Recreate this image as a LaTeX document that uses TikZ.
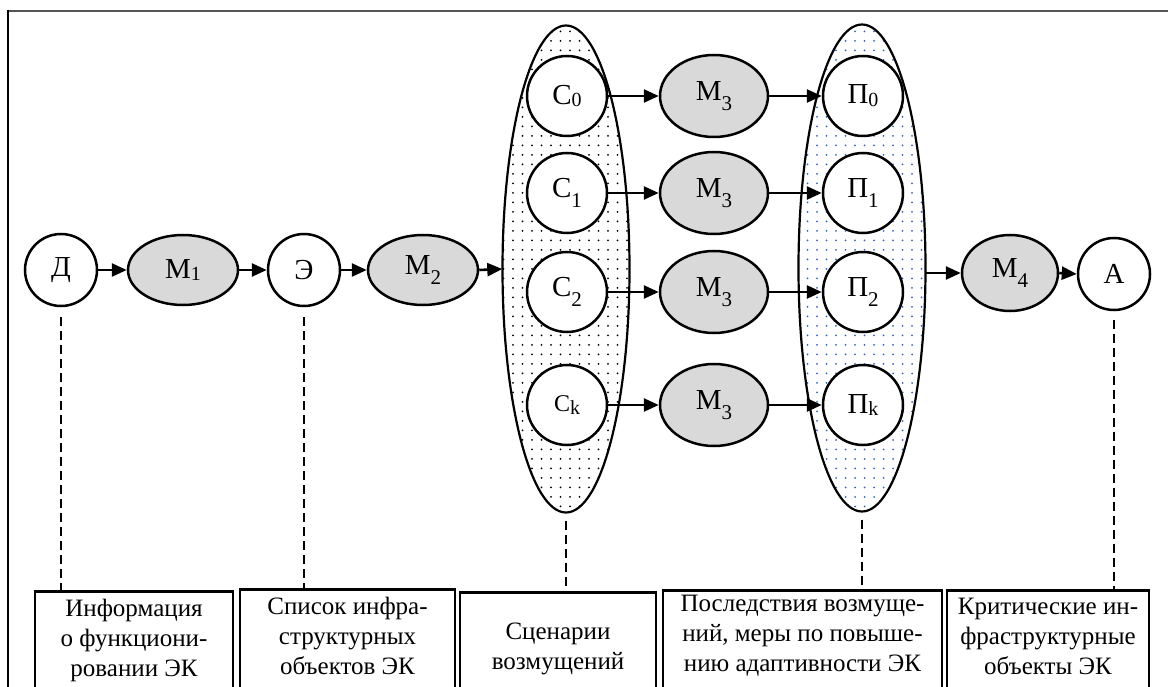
\documentclass[tikz,border=0pt]{standalone}
\usepackage{fontspec}
\setmainfont{Liberation Serif}
\usetikzlibrary{arrows.meta,shapes.geometric,patterns.meta}
\definecolor{dotblue}{RGB}{50,100,200}
\definecolor{framegray}{RGB}{85,85,85}
\newcommand{\flatsub}[1]{\raisebox{-0.1em}{\fontsize{20pt}{20pt}\selectfont #1}}
\newcommand{\lowsub}[1]{\raisebox{-0.36em}{\fontsize{21pt}{21pt}\selectfont #1}}
\begin{document}
\begin{tikzpicture}[x=1pt,y=-1pt,
  every node/.style={font=\fontsize{29pt}{32pt}\selectfont},
  circ/.style={circle,draw,line width=2.5pt,minimum size=72pt,inner sep=0pt,fill=white},
  bigcirc/.style={circle,draw,line width=2.5pt,minimum size=80pt,inner sep=0pt,fill=white},
  mell/.style={ellipse,draw,line width=2.5pt,fill=gray!30,inner sep=0pt},
  groupell/.style={ellipse,minimum width=127pt,minimum height=487pt,inner sep=0pt},
  arr/.style={line width=2.6pt,-{Triangle[length=15pt,width=13pt]}},
  dashline/.style={line width=2.4pt,dash pattern=on 9pt off 5pt},
  infobox/.style={rectangle,draw,line width=2.6pt,anchor=north,inner sep=0pt},
  infotext/.style={align=center,inner sep=0pt,font=\fontsize{25pt}{30pt}\selectfont},
]
\useasboundingbox (0,0) rectangle (1168,687);
% frame
\draw[line width=2.2pt,framegray] (7,11) -- (1168,11);
\draw[line width=1.8pt] (8,10) -- (8,690);

% group ellipses
\node[groupell,pattern={Dots[distance=9.5pt,radius=1pt]},pattern color=black] (Cell) at (566,269) {};
\node[groupell,pattern={Dots[distance=9.5pt,radius=1pt]},pattern color=dotblue] (Pell) at (862,268) {};
\draw[line width=2.2pt] (Cell.center) ellipse[x radius=63.5pt,y radius=243.5pt];
\draw[line width=2.2pt] (Pell.center) ellipse[x radius=63.5pt,y radius=243.5pt];

% main row
\node[circ] (D) at (61,270) {Д};
\node[mell,minimum width=110pt,minimum height=70pt] (M1) at (183,270) {М\flatsub{1}};
\node[circ] (E) at (304,270) {Э};
\node[mell,minimum width=110pt,minimum height=70pt] (M2) at (423,270) {М\lowsub{2}};

% scenarios
\node[bigcirc] (C0) at (567,96) {С\flatsub{0}};
\node[bigcirc] (C1) at (567,193) {С\lowsub{1}};
\node[bigcirc] (C2) at (567,292) {С\lowsub{2}};
\node[bigcirc,font=\fontsize{24pt}{26pt}\selectfont] (Ck) at (567,405) {С\flatsub{k}};

% models M3
\node[mell,minimum width=108pt,minimum height=82pt] (M30) at (714,96) {М\lowsub{3}};
\node[mell,minimum width=108pt,minimum height=82pt] (M31) at (714,193) {М\lowsub{3}};
\node[mell,minimum width=108pt,minimum height=82pt] (M32) at (714,292) {М\lowsub{3}};
\node[mell,minimum width=108pt,minimum height=82pt] (M3k) at (714,405) {М\lowsub{3}};

% consequences
\node[bigcirc] (P0) at (863,96) {П\flatsub{0}};
\node[bigcirc] (P1) at (863,193) {П\lowsub{1}};
\node[bigcirc] (P2) at (863,292) {П\lowsub{2}};
\node[bigcirc] (Pk) at (863,405) {П\flatsub{k}};

% output
\node[mell,minimum width=96pt,minimum height=76pt] (M4) at (1010,273) {М\lowsub{4}};
\node[circ] (A) at (1114,274) {А};

% arrows
\draw[arr] (D.east) -- (M1.west);
\draw[arr] (M1.east) -- (E.west);
\draw[arr] (E.east) -- (M2.west);
\draw[arr] (M2.east) -- (Cell.west);
\draw[arr] (C0.east) -- (M30.west);
\draw[arr] (C1.east) -- (M31.west);
\draw[arr] (C2.east) -- (M32.west);
\draw[arr] (Ck.east) -- (M3k.west);
\draw[arr] (M30.east) -- (P0.west);
\draw[arr] (M31.east) -- (P1.west);
\draw[arr] (M32.east) -- (P2.west);
\draw[arr] (M3k.east) -- (Pk.west);
\draw[arr] (Pell.east |- M4.west) -- (M4.west);
\draw[arr] (M4.east) -- (A.west);

% boxes
\node[infobox,minimum width=198pt,minimum height=130pt] (B1) at (134,590) {};
\node[infobox,minimum width=215pt,minimum height=130pt] (B2) at (347.5,588) {};
\node[infobox,minimum width=196pt,minimum height=130pt] (B3) at (558,591) {};
\node[infobox,minimum width=279pt,minimum height=130pt] (B4) at (802.5,589) {};
\node[infobox,minimum width=202pt,minimum height=130pt] (B5) at (1048,589) {};
\node[infotext] (T1) at (134,640) {Информация\\о функциони-\\ровании ЭК};
\node[infotext] (T2) at (347.5,636) {Список инфра-\\структурных\\объектов ЭК};
\node[infotext] (T3) at (558,649) {Сценарии\\возмущений};
\node[infotext] (T4) at (802.5,636) {Последствия возмуще-\\ний, меры по повыше-\\нию адаптивности ЭК};
\node[infotext] (T5) at (1048,636) {Критические ин-\\фраструктурные\\объекты ЭК};

% dashed leaders
\draw[dashline,shorten <=10pt] (D.south) -- (D.south |- B1.north);
\draw[dashline,shorten <=10pt] (E.south) -- (E.south |- B2.north);
\draw[dashline,shorten <=8pt] (Cell.south) -- (Cell.south |- B3.north);
\draw[dashline,shorten <=8pt] (Pell.south) -- (Pell.south |- B4.north);
\draw[dashline,shorten <=9pt] (A.south) -- (A.south |- B5.north);
\end{tikzpicture}
\end{document}
